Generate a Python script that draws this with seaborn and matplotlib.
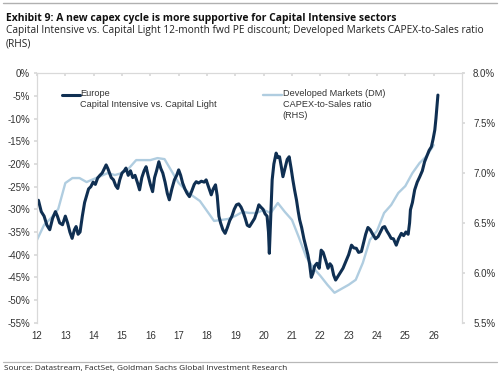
import matplotlib
matplotlib.use("Agg")
import matplotlib.pyplot as plt
import seaborn as sns
import pandas as pd
from matplotlib.lines import Line2D

# Europe capital intensive vs capital light, 12m fwd PE discount (%), LHS
europe_year = [
    2012.00, 2012.05, 2012.15, 2012.25, 2012.35, 2012.45, 2012.55, 2012.65, 2012.72, 2012.80,
    2012.90, 2013.00, 2013.08, 2013.16, 2013.24, 2013.32, 2013.38, 2013.45, 2013.52, 2013.60,
    2013.68, 2013.75, 2013.82, 2013.90, 2013.98, 2014.06, 2014.14, 2014.22, 2014.30, 2014.38,
    2014.44, 2014.50, 2014.56, 2014.62, 2014.70, 2014.78, 2014.85, 2014.92, 2015.00, 2015.08,
    2015.14, 2015.22, 2015.30, 2015.38, 2015.46, 2015.55, 2015.62, 2015.70, 2015.78, 2015.85,
    2015.92, 2016.00, 2016.08, 2016.15, 2016.22, 2016.30, 2016.37, 2016.44, 2016.52, 2016.60,
    2016.67, 2016.76, 2016.85, 2016.93, 2017.00, 2017.07, 2017.14, 2017.22, 2017.30, 2017.38,
    2017.46, 2017.55, 2017.62, 2017.70, 2017.80, 2017.90, 2017.97, 2018.05, 2018.15, 2018.22,
    2018.30, 2018.36, 2018.42, 2018.48, 2018.56, 2018.64, 2018.72, 2018.80, 2018.88, 2018.96,
    2019.04, 2019.12, 2019.20, 2019.27, 2019.35, 2019.42, 2019.50, 2019.58, 2019.68, 2019.76,
    2019.83, 2019.90, 2019.98, 2020.05, 2020.12, 2020.17, 2020.20, 2020.24, 2020.30, 2020.36,
    2020.44, 2020.50, 2020.56, 2020.62, 2020.68, 2020.75, 2020.83, 2020.90, 2020.97, 2021.03,
    2021.09, 2021.16, 2021.22, 2021.27, 2021.34, 2021.42, 2021.50, 2021.56, 2021.62, 2021.68,
    2021.74, 2021.80, 2021.88, 2021.96, 2022.03, 2022.10, 2022.20, 2022.27, 2022.34, 2022.40,
    2022.47, 2022.54, 2022.62, 2022.70, 2022.80, 2022.90, 2023.00, 2023.10, 2023.18, 2023.27,
    2023.35, 2023.45, 2023.52, 2023.60, 2023.68, 2023.76, 2023.85, 2023.95, 2024.04, 2024.12,
    2024.20, 2024.27, 2024.35, 2024.42, 2024.50, 2024.58, 2024.68, 2024.76, 2024.86, 2024.94,
    2025.02, 2025.10, 2025.15, 2025.18, 2025.25, 2025.33, 2025.42, 2025.51, 2025.60, 2025.68,
    2025.75, 2025.84, 2025.92, 2025.98, 2026.04, 2026.08, 2026.12, 2026.15,
]
europe_val = [
    -28.5, -28.0, -30.5, -31.5, -33.5, -34.5, -32.0, -30.5, -31.5, -33.0,
    -33.4, -31.5, -33.0, -35.0, -36.4, -34.5, -33.8, -35.5, -35.0, -31.5,
    -28.5, -27.0, -25.5, -25.0, -24.0, -24.5, -23.1, -22.5, -22.0, -21.0,
    -20.2, -21.0, -22.0, -23.0, -23.5, -24.8, -25.4, -23.5, -22.0, -21.5,
    -20.9, -22.5, -21.5, -23.0, -22.5, -24.2, -25.7, -23.0, -21.5, -20.6,
    -22.5, -24.5, -26.1, -23.0, -21.5, -19.5, -21.0, -22.0, -24.0, -26.5,
    -27.9, -25.5, -23.5, -22.5, -21.3, -22.5, -24.2, -25.5, -26.5, -27.2,
    -26.0, -24.5, -23.9, -24.2, -23.8, -24.0, -23.5, -25.0, -26.8, -25.5,
    -24.6, -27.0, -31.5, -33.0, -34.5, -35.3, -34.0, -32.5, -31.5, -30.0,
    -29.0, -28.8, -29.5, -30.5, -32.0, -33.5, -33.8, -33.0, -32.0, -30.5,
    -29.0, -29.5, -30.0, -31.0, -31.5, -35.0, -39.7, -33.0, -23.5, -20.0,
    -17.6, -18.6, -18.4, -20.5, -22.8, -21.0, -19.0, -18.4, -21.0, -23.5,
    -25.7, -28.0, -30.5, -32.3, -34.0, -36.5, -38.5, -40.0, -42.0, -45.0,
    -44.1, -42.5, -41.9, -43.0, -39.0, -39.5, -41.5, -43.0, -42.0, -42.5,
    -44.5, -45.6, -44.8, -44.0, -43.0, -41.5, -40.0, -37.9, -38.5, -38.6,
    -39.5, -39.3, -37.5, -35.5, -34.0, -34.5, -35.5, -36.5, -36.0, -35.0,
    -34.0, -33.8, -34.8, -35.5, -36.4, -36.5, -37.9, -36.5, -35.3, -35.8,
    -35.0, -35.5, -33.0, -30.1, -28.5, -25.7, -24.0, -22.8, -21.5, -19.5,
    -18.4, -17.0, -16.2, -14.5, -12.5, -10.0, -7.0, -4.8,
]

# DM CAPEX-to-Sales ratio (%), RHS, quarterly
dm_year = [
    2012.00, 2012.25, 2012.50, 2012.75, 2013.00, 2013.25, 2013.50, 2013.75,
    2014.00, 2014.25, 2014.50, 2014.75, 2015.00, 2015.25, 2015.50, 2015.75,
    2016.00, 2016.25, 2016.50, 2016.75, 2017.00, 2017.25, 2017.50, 2017.75,
    2018.00, 2018.25, 2018.50, 2018.75, 2019.00, 2019.25, 2019.50, 2019.75,
    2020.00, 2020.25, 2020.50, 2020.75, 2021.00, 2021.25, 2021.50, 2021.75,
    2022.00, 2022.25, 2022.50, 2022.75, 2023.00, 2023.25, 2023.50, 2023.75,
    2024.00, 2024.25, 2024.50, 2024.75, 2025.00, 2025.25, 2025.50, 2025.75,
    2026.00,
]
dm_val = [
    6.33, 6.48, 6.55, 6.64, 6.90, 6.95, 6.95, 6.91,
    6.94, 6.97, 7.00, 6.98, 7.00, 7.05, 7.13, 7.13,
    7.13, 7.15, 7.14, 7.02, 6.90, 6.83, 6.77, 6.72,
    6.62, 6.52, 6.53, 6.54, 6.57, 6.61, 6.60, 6.60,
    6.63, 6.60, 6.70, 6.61, 6.53, 6.35, 6.16, 6.05,
    5.97, 5.88, 5.80, 5.84, 5.88, 5.93, 6.10, 6.33,
    6.42, 6.60, 6.68, 6.80, 6.87, 7.00, 7.10, 7.17,
    7.28,
]

left_ticks = [0, -5, -10, -15, -20, -25, -30, -35, -40, -45, -50, -55]
right_ticks = [5.5, 6.0, 6.5, 7.0, 7.5, 8.0]
year_ticks = list(range(2012, 2027))
year_labels = [str(y)[2:] for y in year_ticks]

DARK = "#0f2f52"
LIGHT = "#b0cde0"
GRID = "#d9d9d9"
TXT = "#333333"

europe = pd.DataFrame({"year": europe_year, "val": europe_val})
dm = pd.DataFrame({"year": dm_year, "val": dm_val})

sns.set_theme(style="white")
plt.rcParams["font.family"] = ["Liberation Sans", "DejaVu Sans"]

fig = plt.figure(figsize=(5, 3.75), dpi=100)
ax = fig.add_axes([0.074, 0.1395, 0.85, 0.665])
ax2 = ax.twinx()

sns.lineplot(data=dm, x="year", y="val", ax=ax2, color=LIGHT, lw=1.7)
sns.lineplot(data=europe, x="year", y="val", ax=ax, color=DARK, lw=2.2)
ax.set_zorder(ax2.get_zorder() + 1)
ax.patch.set_visible(False)

ax.set_xlim(2012, 2027)
ax.set_ylim(-55, 0)
ax2.set_ylim(5.5, 8.0)
ax.set_xticks(year_ticks)
ax.set_xticklabels(year_labels)
ax.set_yticks(left_ticks)
ax.set_yticklabels([f"{t}%" for t in left_ticks])
ax2.set_yticks(right_ticks)
ax2.set_yticklabels([f"{t:.1f}%" for t in right_ticks])
for a in (ax, ax2):
    a.set_xlabel("")
    a.set_ylabel("")
    for s in a.spines.values():
        s.set_color(GRID)
        s.set_linewidth(0.8)
    a.spines["bottom"].set_visible(False)
ax.tick_params(axis="x", which="both", top=True, bottom=False, direction="in",
               length=2.5, color=GRID, labelsize=7, labelcolor=TXT, pad=6)
ax.tick_params(axis="y", direction="out", length=2, color=GRID, labelsize=7,
               labelcolor=TXT, pad=3)
ax2.tick_params(axis="y", direction="out", length=2, color=GRID, labelsize=7,
                labelcolor=TXT, pad=6)

# legend keys and labels
ax.add_line(Line2D([0.058, 0.1], [0.912, 0.912], transform=ax.transAxes,
                   color=DARK, lw=2.2))
ax.text(0.101, 0.937, "Europe\nCapital Intensive vs. Capital Light",
        transform=ax.transAxes, fontsize=6.6, color=TXT, va="top",
        linespacing=1.3)
ax.add_line(Line2D([0.532, 0.576], [0.912, 0.912], transform=ax.transAxes,
                   color=LIGHT, lw=1.7))
ax.text(0.578, 0.937, "Developed Markets (DM)\nCAPEX-to-Sales ratio\n(RHS)",
        transform=ax.transAxes, fontsize=6.6, color=TXT, va="top",
        linespacing=1.3)

# header, footer
title_font = ["Open Sans", "DejaVu Sans"]
fig.add_artist(Line2D([0.006, 0.994], [0.993, 0.993], color="#b0b0b0", lw=1.0))
fig.text(0.012, 0.965, "Exhibit 9: A new capex cycle is more supportive for Capital Intensive sectors",
         fontsize=7.5, fontweight="bold", family=title_font, color="#111111", va="top")
fig.text(0.012, 0.932, "Capital Intensive vs. Capital Light 12-month fwd PE discount; Developed Markets CAPEX-to-Sales ratio\n(RHS)",
         fontsize=7.3, family=title_font, color="#222222", va="top", linespacing=1.2)
fig.add_artist(Line2D([0.006, 0.994], [0.036, 0.036], color="#b8b8b8", lw=0.9))
fig.text(0.008, 0.018, "Source: Datastream, FactSet, Goldman Sachs Global Investment Research",
         fontsize=5.95, family=title_font, color="#222222", va="center")

fig.savefig("out.png", dpi=100)
